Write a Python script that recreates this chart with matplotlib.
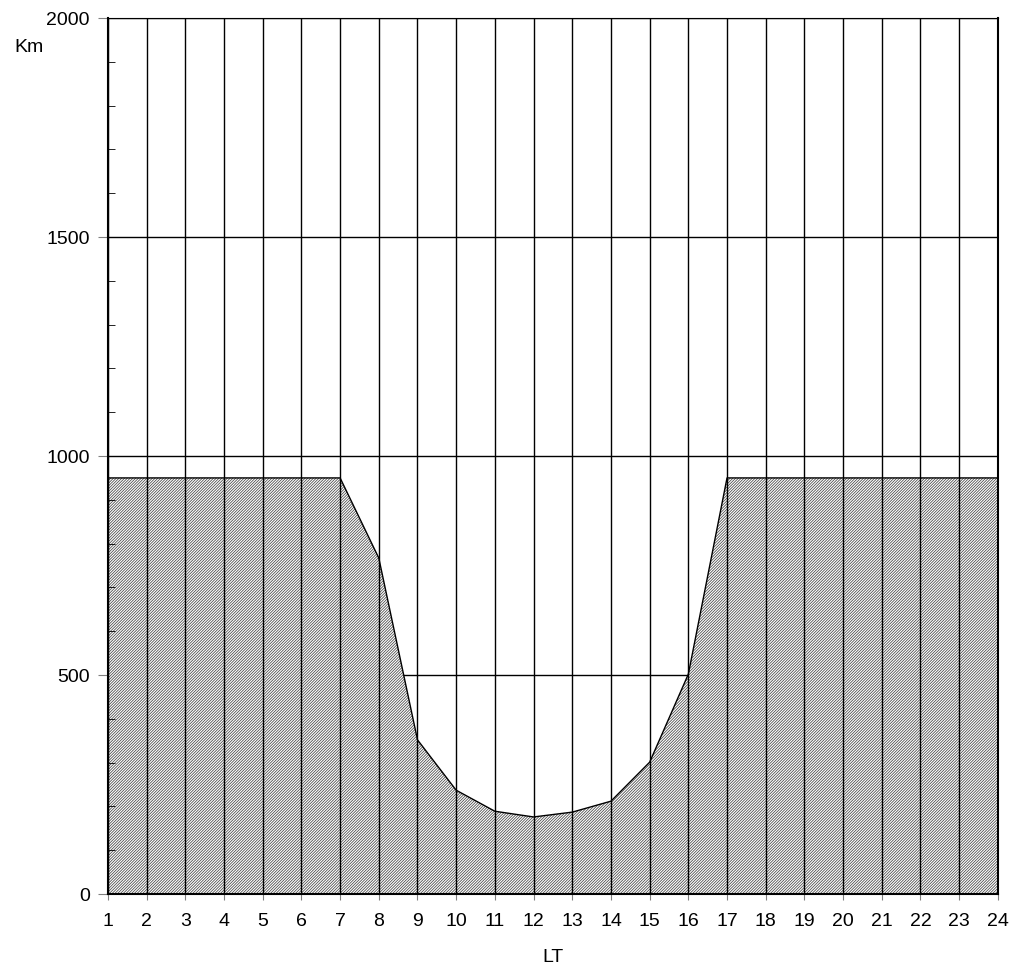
import matplotlib
matplotlib.use("Agg")
import matplotlib.pyplot as plt
from matplotlib.ticker import MultipleLocator

plt.rcParams['font.family'] = ['Liberation Sans', 'DejaVu Sans']
plt.rcParams['hatch.linewidth'] = 0.55

# hora local e altura (km)
horas = list(range(1, 25))
altura = [950, 950, 950, 950, 950, 950, 950, 767, 352, 237, 189, 176,
          187, 212, 301, 502, 950, 950, 950, 950, 950, 950, 950, 950]
linhas_y = [500, 1000, 1500, 2000]

fig = plt.figure(figsize=(10.11, 9.68), dpi=100)
ax = fig.add_axes([0.1068, 0.0764, 0.987 - 0.1068, 0.9814 - 0.0764])

# linhas horizontais ficam por baixo do preenchimento
for v in linhas_y:
    ax.axhline(v, color='black', lw=1.0, zorder=0)

ax.fill_between(horas, 0, altura, facecolor='white', edgecolor='#444444',
                hatch='/' * 12, lw=0, zorder=1)
ax.plot(horas, altura, color='black', lw=1.0, zorder=2)

# linhas verticais por cima
for h in horas:
    ax.axvline(h, color='black', lw=1.0, zorder=3)

ax.set_xlim(1, 24)
ax.set_ylim(0, 2000)
ax.set_xticks(horas)
ax.set_yticks([0, 500, 1000, 1500, 2000])
ax.yaxis.set_minor_locator(MultipleLocator(100))
ax.tick_params(axis='x', which='major', direction='out', length=4.5,
               color='gray', labelsize=14, pad=9)
ax.tick_params(axis='y', which='major', direction='out', length=7,
               color='gray', labelsize=14, pad=6)
ax.tick_params(axis='y', which='minor', direction='in', length=5,
               color='black')

for s in ['left', 'bottom', 'right']:
    ax.spines[s].set_linewidth(1.5)
ax.spines['top'].set_linewidth(0.8)

fig.text(29 / 1011, 1 - 47 / 968, 'Km', fontsize=14, ha='center', va='center')
fig.text(553 / 1011, 1 - 957 / 968, 'LT', fontsize=14, ha='center', va='center')

fig.savefig('out.png', dpi=100)
